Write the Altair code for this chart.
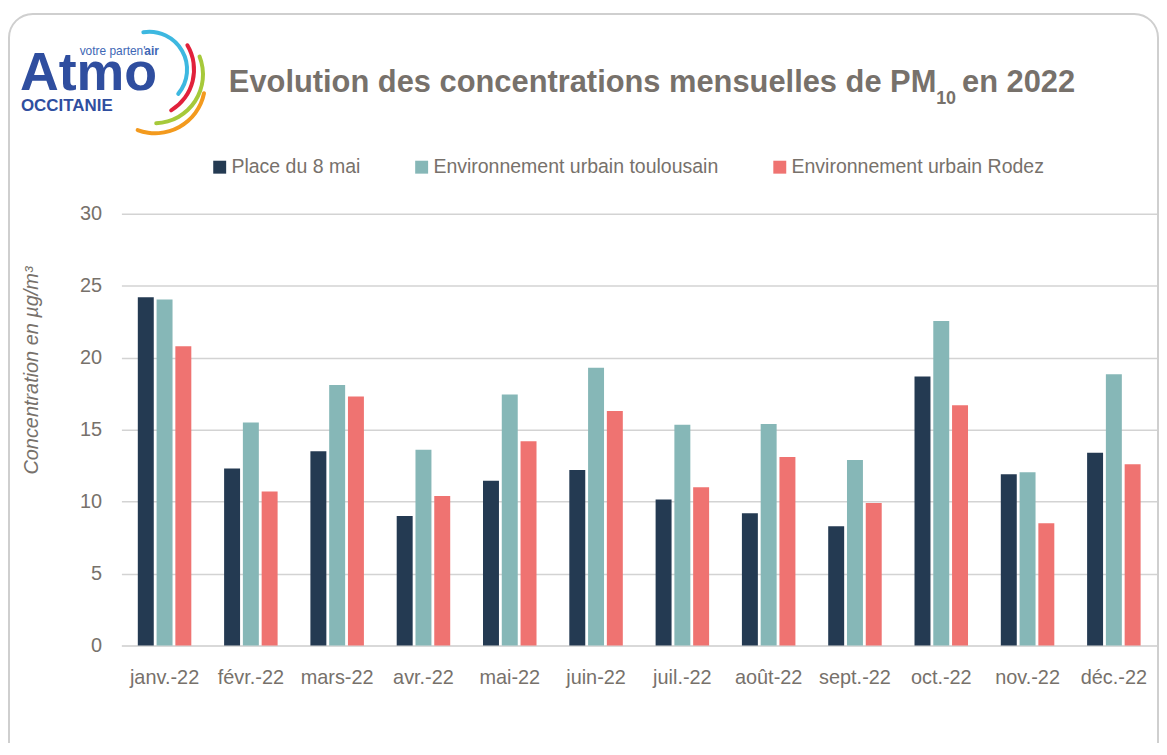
import altair as alt
import pandas as pd
import math

months = ["janv.-22", "févr.-22", "mars-22", "avr.-22", "mai-22", "juin-22",
          "juil.-22", "août-22", "sept.-22", "oct.-22", "nov.-22", "déc.-22"]
series = ["Place du 8 mai", "Environnement urbain toulousain", "Environnement urbain Rodez"]
place_8_mai = [24.2, 12.3, 13.5, 9.0, 11.45, 12.2, 10.15, 9.2, 8.3, 18.7, 11.9, 13.4]
toulouse = [24.05, 15.5, 18.1, 13.6, 17.45, 19.3, 15.35, 15.4, 12.9, 22.55, 12.05, 18.85]
rodez = [20.8, 10.7, 17.3, 10.4, 14.2, 16.3, 11.0, 13.1, 9.9, 16.7, 8.5, 12.6]
colors = ["#243A52", "#86B7B7", "#EF7371"]
y_ticks = [0, 5, 10, 15, 20, 25, 30]

rows = []
for name, vals in zip(series, [place_8_mai, toulouse, rodez]):
    for m, v in zip(months, vals):
        rows.append({"mois": m, "serie": name, "valeur": v})
df = pd.DataFrame(rows)

FONT = "Liberation Sans, Arial, sans-serif"
GRAY = "#77716B"
BLUE = "#2F4E9F"

W, H = 1041, 434

bars = alt.Chart(df).mark_bar().encode(
    x=alt.X("mois:N", sort=months, title=None,
            scale=alt.Scale(paddingInner=0.38, paddingOuter=0.19),
            axis=alt.Axis(labelAngle=0, labelFontSize=20, labelColor=GRAY, labelFont=FONT,
                          ticks=False, labelPadding=22, domainColor="#D9D9D9", domainWidth=2,
                          grid=False)),
    xOffset=alt.XOffset("serie:N", sort=series, scale=alt.Scale(paddingInner=0.15)),
    y=alt.Y("valeur:Q", title="Concentration en µg/m³",
            scale=alt.Scale(domain=[0, 30], nice=False),
            axis=alt.Axis(values=y_ticks, labelFontSize=20, labelColor=GRAY, labelFont=FONT,
                          ticks=False, domain=False, labelPadding=20,
                          gridColor="#D3D3D3", gridWidth=1.5,
                          titleFont=FONT, titleFontSize=20, titleFontStyle="italic",
                          titleFontWeight="normal", titleColor=GRAY,
                          titleX=-80, titleY=157)),
    color=alt.Color("serie:N", sort=series,
                    scale=alt.Scale(domain=series, range=colors),
                    legend=alt.Legend(title=None, orient="none", legendX=89, legendY=-57,
                                      direction="horizontal", symbolType="square",
                                      symbolSize=169, symbolStrokeWidth=0,
                                      labelFontSize=19.6, labelFont=FONT, labelColor=GRAY,
                                      columnPadding=51, labelOffset=2, padding=0,
                                      labelLimit=500)),
)

one = alt.Data(values=[{}])

card = alt.Chart(one).mark_rect(fill="white", fillOpacity=0, stroke="#CFCFCF",
                                strokeWidth=2, cornerRadius=24).encode(
    x=alt.value(-113), x2=alt.value(1042), y=alt.value(-201), y2=alt.value(600))

title_main = alt.Chart(one).mark_text(
    text="Evolution des concentrations mensuelles de PM", font=FONT, fontSize=31,
    fontWeight="bold", color=GRAY, align="left", baseline="alphabetic").encode(
    x=alt.value(108), y=alt.value(-122))
title_sub = alt.Chart(one).mark_text(
    text="10", font=FONT, fontSize=18, fontWeight="bold", color=GRAY,
    align="left", baseline="alphabetic").encode(x=alt.value(819), y=alt.value(-110))
title_end = alt.Chart(one).mark_text(
    text="en 2022", font=FONT, fontSize=31, fontWeight="bold", color=GRAY,
    align="left", baseline="alphabetic").encode(x=alt.value(845), y=alt.value(-122))

logo_atmo = alt.Chart(one).mark_text(
    text="Atmo", font=FONT, fontSize=54, fontWeight="bold",
    color=BLUE, align="left", baseline="alphabetic").encode(x=alt.value(-102), y=alt.value(-124))
logo_votre = alt.Chart(one).mark_text(
    text="votre parten'", font=FONT, fontSize=12,
    color="#3E67B5", align="left", baseline="alphabetic").encode(x=alt.value(-42), y=alt.value(-160))
logo_air = alt.Chart(one).mark_text(
    text="air", font=FONT, fontSize=12, fontWeight="bold",
    color="#3E67B5", align="left", baseline="alphabetic").encode(x=alt.value(23), y=alt.value(-160))
logo_occ = alt.Chart(one).mark_text(
    text="OCCITANIE", font=FONT, fontSize=17, fontWeight="bold",
    color=BLUE, align="left", baseline="alphabetic").encode(x=alt.value(-101), y=alt.value(-103))

# logo arcs: colour, centre x, centre y (relative to plot origin), radius, start, end (deg)
arc_specs = [
    ("#3DB8E0", 28, -145, 38, 348, 493),
    ("#E1213B", 25, -145, 48, 57, 151),
    ("#A6C93A", 33, -140, 49, 66, 180),
    ("#F39A1E", 34, -131, 50, 99, 203),
]
arcs = []
for col, cx, cy, r, t1, t2 in arc_specs:
    arcs.append(alt.Chart(one).mark_arc(
        color=col, radius=r + 2, radius2=r - 2, theta=math.radians(t1), theta2=math.radians(t2),
        cornerRadius=2).encode(x=alt.value(cx), y=alt.value(cy)))

chart = alt.layer(card, bars, title_main, title_sub, title_end,
                  logo_atmo, logo_votre, logo_air, logo_occ, *arcs).properties(
    width=W, height=H,
    padding={"left": 114, "top": 205, "right": 2, "bottom": 96},
    autosize=alt.AutoSizeParams(type="none"),
    background="white",
).configure_view(stroke=None)

chart.save("out.html", embed_options={"renderer": "svg", "actions": False})
